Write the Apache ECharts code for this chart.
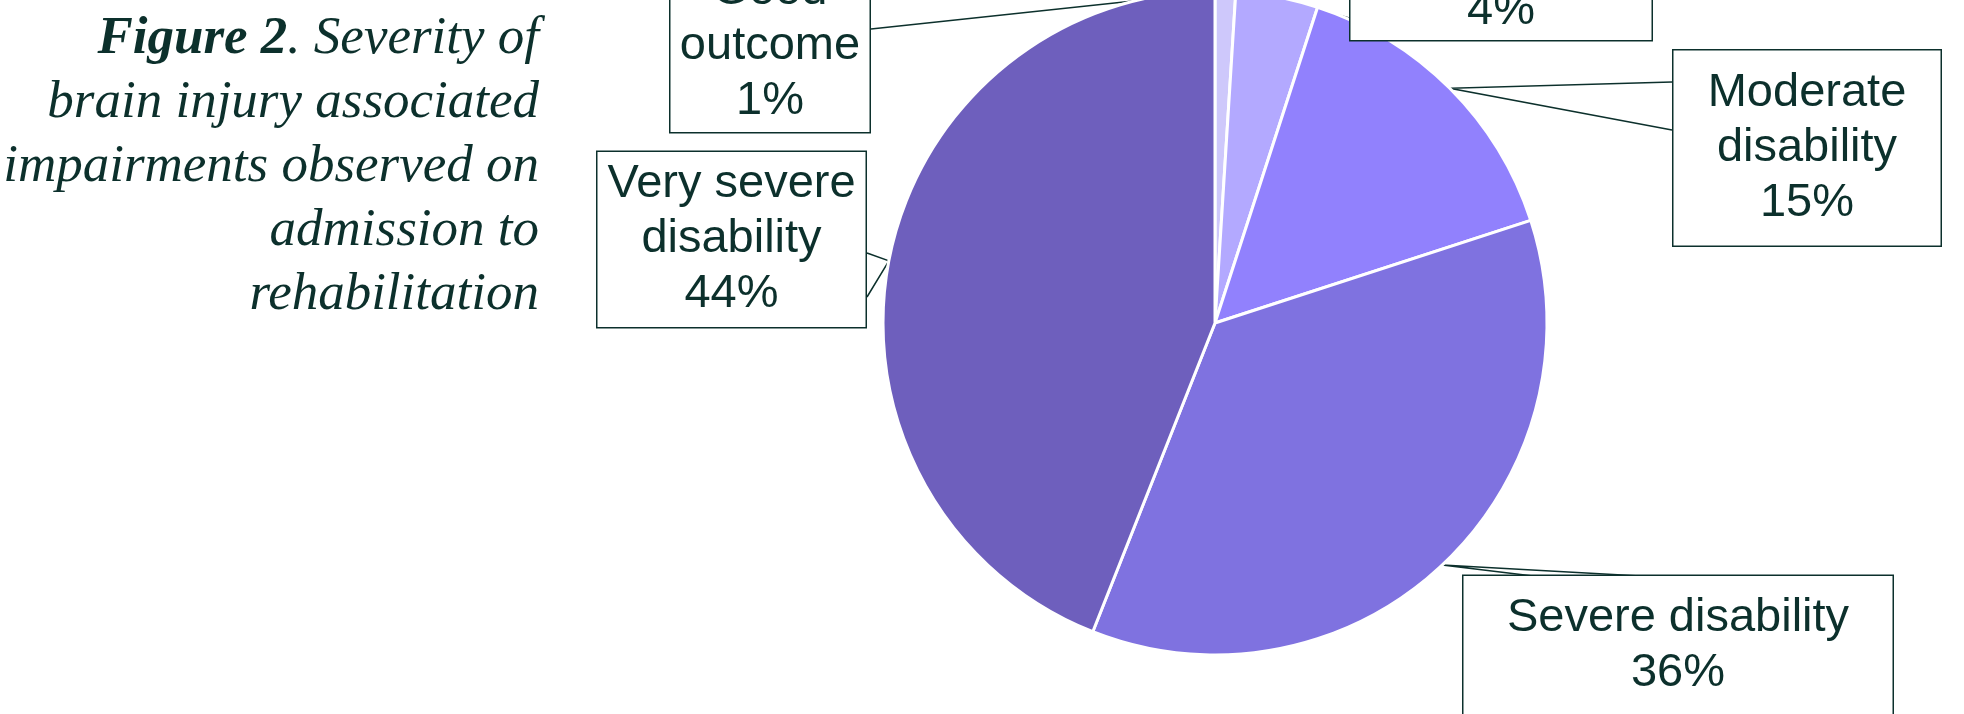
<!DOCTYPE html>
<html>
<head>
<meta charset="utf-8">
<script src="https://cdn.jsdelivr.net/npm/echarts@6/dist/echarts.min.js"></script>
<style>
  html, body { margin: 0; padding: 0; background: #fff; }
  #main { width: 1964px; height: 714px; }
</style>
</head>
<body>
<div id="main"></div>
<script>
// data
var categories = ['Good outcome', 'Mild disability', 'Moderate disability', 'Severe disability', 'Very severe disability'];
var labelTexts = ['Good\noutcome', 'Mild disability', 'Moderate\ndisability', 'Severe disability', 'Very severe\ndisability'];
var percents = [1, 4, 15, 36, 44];
var sliceColors = ['#cec8fb', '#b3a9ff', '#9181fd', '#7f72e0', '#6e5fbd'];
var titleLines = [
    '{b|Figure 2}. Severity of',
    'brain injury associated',
    'impairments observed on',
    'admission to',
    'rehabilitation'
];

var ink = '#0c302c';

// callout boxes: centre, width, vertical padding, and the two points where the wedge meets the box
var boxes = [
    { cx: 770, cy: 46.5, w: 202, pt: 3, pb: 3, tip: [[871, -20], [871, 29]] },
    { cx: 1501, cy: -16, w: 304, pt: 2, pb: 0, tip: [[1349, -30], [1349, 18]] },
    { cx: 1807, cy: 148, w: 270, pt: 15, pb: 15, tip: [[1672, 82], [1672, 130]] },
    { cx: 1678, cy: 646, w: 432, pt: 15, pb: 15, tip: [[1533, 576], [1640, 576]] },
    { cx: 731.5, cy: 239.5, w: 271, pt: 5, pb: 5, tip: [[867, 253], [867, 297]] }
];

var chartDom = document.getElementById('main');
var myChart = echarts.init(chartDom, null, { renderer: 'canvas' });

var seriesData = categories.map(function (name, i) {
    return {
        name: name,
        value: percents[i],
        itemStyle: { color: sliceColors[i] },
        label: {
            width: boxes[i].w - 3,
            padding: [boxes[i].pt, 0, boxes[i].pb, 0]
        }
    };
});

var option = {
    animation: false,
    backgroundColor: '#fff',
    title: {
        text: titleLines.join('\n'),
        left: 539,
        top: 7,
        padding: 0,
        textAlign: 'right',
        textStyle: {
            fontFamily: 'Liberation Serif',
            fontStyle: 'italic',
            fontWeight: 'normal',
            fontSize: 53,
            lineHeight: 64,
            color: ink,
            rich: {
                b: {
                    fontFamily: 'Liberation Serif',
                    fontStyle: 'italic',
                    fontWeight: 'bold',
                    fontSize: 53,
                    lineHeight: 64,
                    color: ink
                }
            }
        }
    },
    series: [
        {
            type: 'pie',
            center: [1215, 323],
            radius: 332,
            startAngle: 90,
            clockwise: true,
            silent: true,
            avoidLabelOverlap: false,
            itemStyle: { borderColor: '#ffffff', borderWidth: 3 },
            label: {
                show: true,
                position: 'outside',
                formatter: function (p) {
                    return labelTexts[p.dataIndex] + '\n' + p.value + '%';
                },
                fontFamily: 'Liberation Sans',
                fontSize: 47,
                lineHeight: 55,
                color: ink,
                align: 'center',
                backgroundColor: '#ffffff',
                borderColor: ink,
                borderWidth: 1.5
            },
            labelLine: {
                show: true,
                length: 10,
                length2: 10,
                lineStyle: { color: ink, width: 1.5 }
            },
            labelLayout: function (p) {
                var b = boxes[p.dataIndex];
                var a = p.labelLinePoints ? p.labelLinePoints[0] : [b.cx, b.cy];
                return {
                    x: b.cx,
                    y: b.cy,
                    align: 'center',
                    verticalAlign: 'middle',
                    labelLinePoints: [b.tip[0], a, b.tip[1]]
                };
            },
            data: seriesData
        }
    ]
};

myChart.setOption(option);
</script>
</body>
</html>
